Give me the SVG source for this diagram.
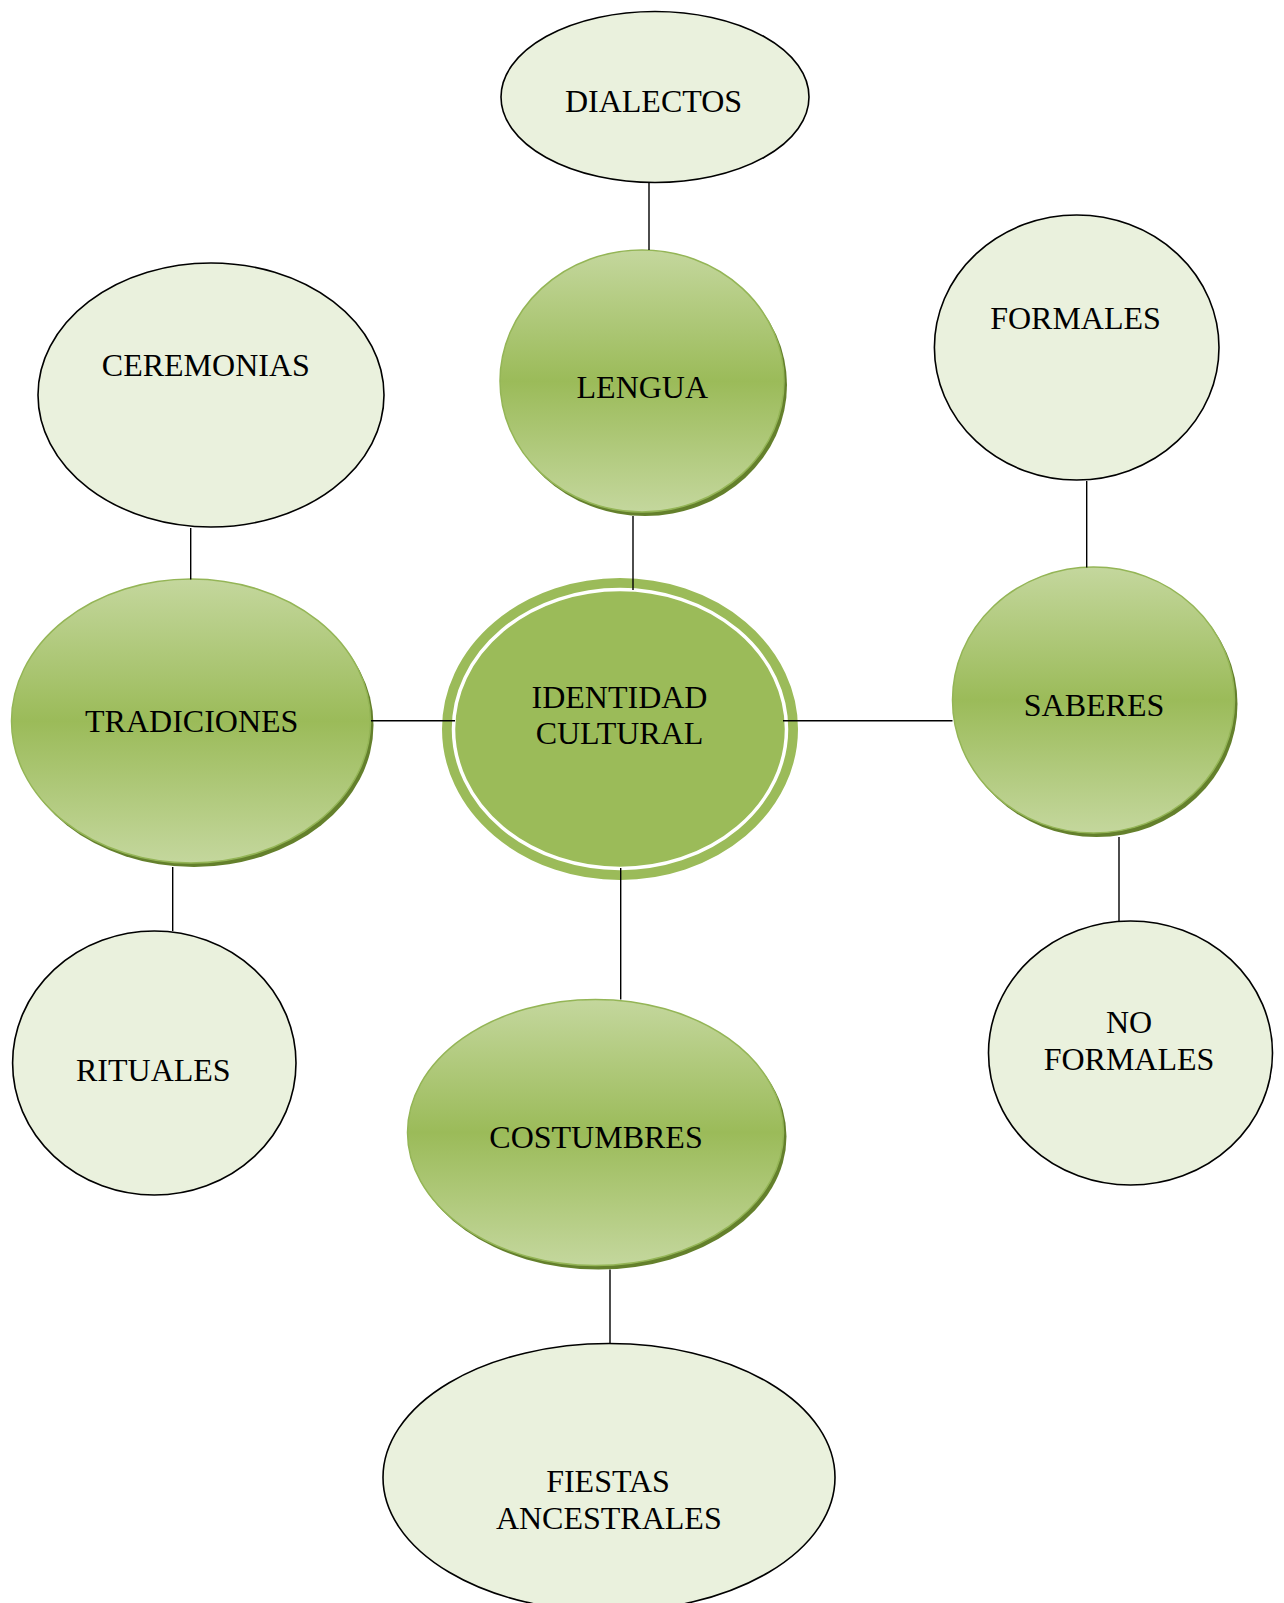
<svg xmlns="http://www.w3.org/2000/svg" width="1284" height="1603" viewBox="0 0 1284 1603">
<defs>
<linearGradient id="g" x1="0" y1="0" x2="0" y2="1">
<stop offset="0" stop-color="#C4D79D"/>
<stop offset="0.5" stop-color="#9BBB59"/>
<stop offset="1" stop-color="#C4D79D"/>
</linearGradient>
</defs>
<style>
.light{fill:#EAF1DD;stroke:#000;stroke-width:1.6}
.dark{fill:url(#g);stroke:#94B556;stroke-width:1.5}
.shadow{fill:#64802C}
.t{font-family:"Liberation Serif","Times New Roman",serif;font-size:32px;fill:#000;text-anchor:middle}
.c{stroke:#000;stroke-width:1.4;fill:none}
</style>
<rect width="1284" height="1603" fill="#fff"/>
<g id="dialectos">
<ellipse class="light" cx="655" cy="97" rx="154" ry="85.5"/>
<text class="t" x="653.5" y="111.7">DIALECTOS</text>
</g>
<g id="lengua">
<ellipse class="shadow" cx="645" cy="385" rx="142" ry="131"/>
<ellipse class="dark" cx="642" cy="381" rx="142" ry="131"/>
<text class="t" x="642.3" y="398.3">LENGUA</text>
</g>
<g id="ceremonias">
<ellipse class="light" cx="211" cy="395" rx="173" ry="132"/>
<text class="t" x="205.8" y="376">CEREMONIAS</text>
</g>
<g id="formales">
<ellipse class="light" cx="1076.7" cy="347.5" rx="142.3" ry="132.5"/>
<text class="t" x="1075.5" y="329">FORMALES</text>
</g>
<g id="tradiciones">
<ellipse class="shadow" cx="194" cy="725" rx="179.5" ry="142"/>
<ellipse class="dark" cx="191" cy="721" rx="179.5" ry="142"/>
<text class="t" x="191.7" y="731.7">TRADICIONES</text>
</g>
<g id="identidad">
<ellipse cx="620" cy="729" rx="173" ry="146" fill="#9BBB59" stroke="#9BBB59" stroke-width="10"/>
<ellipse cx="620" cy="729" rx="166.5" ry="139.5" fill="none" stroke="#fff" stroke-width="3.5"/>
<text class="t" x="619.5" y="708">IDENTIDAD</text>
<text class="t" x="619.5" y="744">CULTURAL</text>
</g>
<g id="saberes">
<ellipse class="shadow" cx="1096.5" cy="704" rx="141" ry="133"/>
<ellipse class="dark" cx="1093.5" cy="700" rx="141" ry="133"/>
<text class="t" x="1094" y="716">SABERES</text>
</g>
<g id="rituales">
<ellipse class="light" cx="154.3" cy="1063" rx="141.7" ry="132"/>
<text class="t" x="153.3" y="1080.7">RITUALES</text>
</g>
<g id="no-formales">
<ellipse class="light" cx="1130.5" cy="1053" rx="142" ry="132"/>
<text class="t" x="1129" y="1032.7">NO</text>
<text class="t" x="1129" y="1070">FORMALES</text>
</g>
<g id="costumbres">
<ellipse class="shadow" cx="598.5" cy="1136.5" rx="188" ry="133"/>
<ellipse class="dark" cx="595.5" cy="1132.5" rx="188" ry="133"/>
<text class="t" x="596" y="1148.3">COSTUMBRES</text>
</g>
<g id="fiestas-ancestrales">
<ellipse class="light" cx="609" cy="1477.5" rx="226" ry="134"/>
<text class="t" x="608" y="1491.7">FIESTAS</text>
<text class="t" x="608.8" y="1529.3">ANCESTRALES</text>
</g>
<g id="connectors">
<line class="c" x1="649" y1="183" x2="649" y2="250"/>
<line class="c" x1="633" y1="516" x2="633" y2="590"/>
<line class="c" x1="371" y1="720.7" x2="455" y2="720.7"/>
<line class="c" x1="783" y1="720.7" x2="952.5" y2="720.7"/>
<line class="c" x1="620.7" y1="868" x2="620.7" y2="999.5"/>
<line class="c" x1="190.7" y1="528" x2="190.7" y2="579.5"/>
<line class="c" x1="172.7" y1="867" x2="172.7" y2="931"/>
<line class="c" x1="1086.7" y1="481" x2="1086.7" y2="567.5"/>
<line class="c" x1="1119" y1="837" x2="1119" y2="921"/>
<line class="c" x1="610" y1="1269.5" x2="610" y2="1343.5"/>
</g>
</svg>
